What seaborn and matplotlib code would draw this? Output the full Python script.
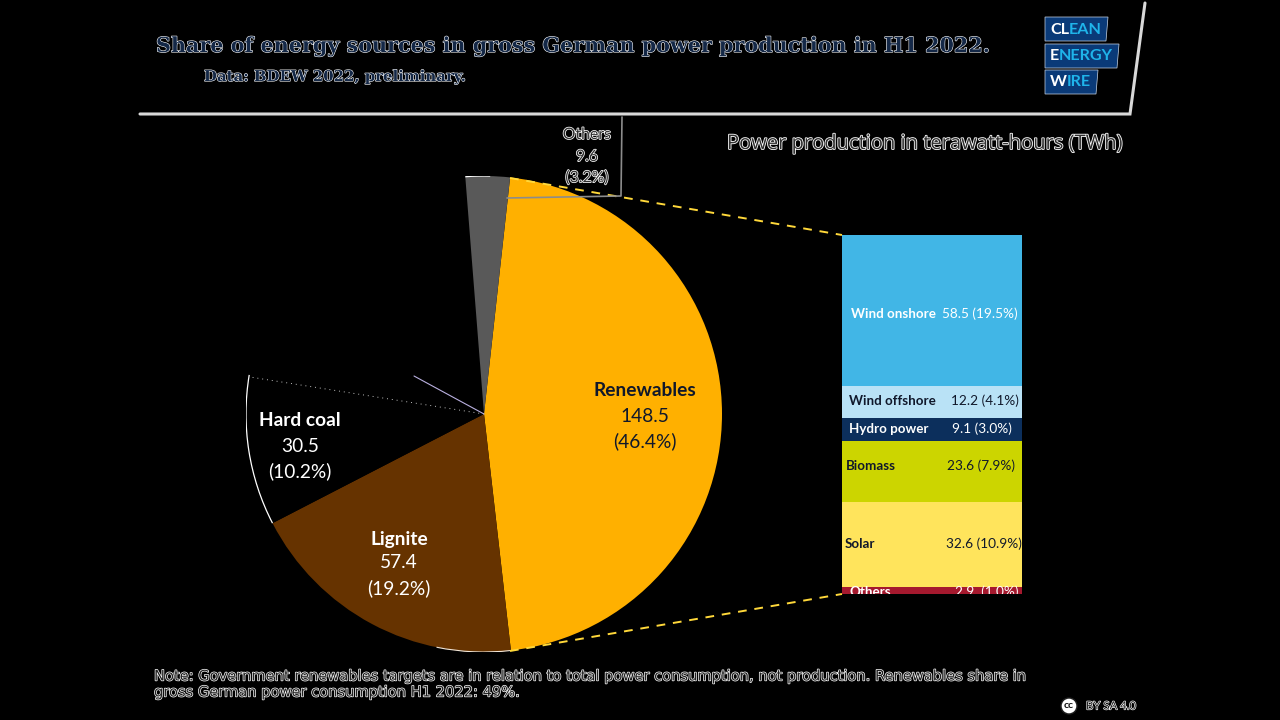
import matplotlib
matplotlib.use('Agg')
import matplotlib.pyplot as plt
import matplotlib.patheffects as pe
from matplotlib.patches import Arc, Polygon, Circle
import pandas as pd
import seaborn as sns

# main pie, shares as drawn in the picture (gas and nuclear are black, unlabelled)
pie_sources = ['Renewables', 'Lignite', 'Hard coal', 'Gas and nuclear', 'Others']
pie_shares = [46.4, 19.2, 10.2, 21.1, 3.0]
pie_twh = ['148.5', '57.4', '30.5', '', '9.6']
pie_pct = ['(46.4%)', '(19.2%)', '(10.2%)', '', '(3.2%)']
pie_colors = ['#FFB000', '#663300', '#000000', '#000000', '#595959']

# renewables breakdown, top to bottom
bar_sources = ['Wind onshore', 'Wind offshore', 'Hydro power', 'Biomass', 'Solar', 'Others']
bar_twh = [58.5, 12.2, 9.1, 23.6, 32.6, 2.9]
bar_pct = ['19.5%', '4.1%', '3.0%', '7.9%', '10.9%', '1.0%']
bar_colors = ['#41B6E6', '#B9E2F6', '#0C2F5C', '#CCD500', '#FFE45C', '#A5192E']
bar_text_colors = ['white', '#10182B', 'white', '#10182B', '#10182B', 'white']
bar_label_x = [851, 849, 849, 846, 845, 850]
bar_value_x = [942, 951, 952, 947, 946, 955]
bar_text_y = [314, 401, 429, 466, 544, 592]

title = 'Share of energy sources in gross German power production in H1 2022.'
subtitle = 'Data: BDEW 2022, preliminary.'
right_title = 'Power production in terawatt-hours (TWh)'
note_1 = ('Note: Government renewables targets are in relation to total power consumption, '
          'not production. Renewables share in')
note_2 = 'gross German power consumption H1 2022: 49%.'

W, H = 1280, 720
PIE_X, PIE_Y, PIE_R = 484, 414, 238
BAR_LEFT, BAR_RIGHT, BAR_TOP, BAR_BOTTOM = 842, 1022, 235, 594

sns.set_theme(style='white')
plt.rcParams['font.family'] = ['Lato', 'DejaVu Sans']

fig = plt.figure(figsize=(W / 100, H / 100), dpi=100, facecolor='black')


def px_axes(left, top, right, bottom):
    return fig.add_axes([left / W, 1 - bottom / H, (right - left) / W, (bottom - top) / H])


def outlined(width=0.9, color='white'):
    return [pe.withStroke(linewidth=width, foreground=color)]


# pie
ax_pie = px_axes(PIE_X - PIE_R, PIE_Y - PIE_R, PIE_X + PIE_R, PIE_Y + PIE_R)
wedges, _ = ax_pie.pie(pie_shares, colors=pie_colors, startangle=83.7, counterclock=False,
                       radius=1, wedgeprops={'linewidth': 0})
ax_pie.set_xlim(-1, 1)
ax_pie.set_ylim(-1, 1)
ax_pie.set_aspect('equal')
ax_pie.patch.set_alpha(0)

# thin white rim on parts of the outline
coal = wedges[2]
ax_pie.add_patch(Arc((0, 0), 2, 2, theta1=coal.theta1, theta2=coal.theta2, color='white', lw=0.9))
ax_pie.add_patch(Arc((0, 0), 2, 2, theta1=wedges[1].theta2 - 18, theta2=wedges[1].theta2,
                     color='#F2E6D8', lw=0.8))
ax_pie.add_patch(Arc((0, 0), 2, 2, theta1=wedges[4].theta2 - 6, theta2=wedges[4].theta2,
                     color='white', lw=0.9))

# stacked bar
ax_bar = px_axes(BAR_LEFT, BAR_TOP, BAR_RIGHT, BAR_BOTTOM)
df_bar = pd.DataFrame({'source': bar_sources, 'twh': bar_twh, 'color': bar_colors})
base = 0
for _, row in df_bar.iloc[::-1].iterrows():
    sns.barplot(data=pd.DataFrame({'group': ['Renewables'], 'twh': [row['twh']]}),
                x='group', y='twh', color=row['color'], saturation=1, width=1,
                bottom=base, linewidth=0, ax=ax_bar)
    base += row['twh']
ax_bar.set_xlim(-0.5, 0.5)
ax_bar.set_ylim(0, sum(bar_twh))
ax_bar.axis('off')

# everything else goes on an overlay in pixels
ax = fig.add_axes([0, 0, 1, 1])
ax.set_xlim(0, W)
ax.set_ylim(H, 0)
ax.axis('off')
ax.patch.set_alpha(0)

# header frame
ax.plot([140, 1130, 1145], [114, 114, 3], color='#D9D9D9', lw=2.2, solid_joinstyle='miter')

ax.text(156, 46, title, family='DejaVu Serif', weight='bold', fontsize=14.9, color='#142847',
        va='center', path_effects=outlined(0.8))
ax.text(204, 77, subtitle, family='DejaVu Serif', weight='bold', fontsize=10.75, color='#142847',
        va='center', path_effects=outlined(0.8))
ax.text(727, 144, right_title, family='Open Sans', fontsize=14.5, color='#303030',
        va='center', path_effects=outlined(1.2))

# logo
logo_rows = [('CL', 'EAN', 17, 41, 1108), ('E', 'NERGY', 44, 68, 1119), ('W', 'IRE', 70, 94, 1098)]
for first, rest, top, bottom, right in logo_rows:
    ax.add_patch(Polygon([(1045, top), (right, top), (right - 2, bottom), (1045, bottom)],
                         closed=True, fc='#0A3A78', ec='#C9D6E6', lw=0.5))
    t = ax.text(1050, (top + bottom) / 2 + 0.5, first, color='white', weight='bold',
                fontsize=11.6, va='center')
    ax.annotate(rest, xy=(1, 0.5), xycoords=t, va='center', color='#1FB4EA', weight='bold',
                fontsize=11.6)

# connector to the bar, and the Others leader
ax.plot([510, BAR_LEFT], [178, BAR_TOP], color='#FFD83A', lw=1.4, dashes=(4.5, 4))
ax.plot([510, BAR_LEFT], [651, BAR_BOTTOM], color='#FFD83A', lw=1.4, dashes=(4.5, 4))
ax.plot([507, 621, 622], [198, 196, 117], color='#8C8C8C', lw=1.2)

# dotted edge and short line inside the black part of the pie
ax.plot([PIE_X, 250], [PIE_Y, 377], color='#BFBFBF', lw=0.7, dashes=(1, 4))
ax.plot([PIE_X, 414], [PIE_Y, 376], color='#B9B0E0', lw=0.8)

# pie labels
pie_label_pos = {0: (645, [391, 416, 441]), 1: (399, [539, 563, 588]), 2: (300, [421, 446, 471])}
for i, (x, ys) in pie_label_pos.items():
    ax.text(x, ys[0], pie_sources[i], ha='center', va='center', weight='bold', fontsize=13.8,
            color='#10182B' if i == 0 else 'white')
    ax.text(x, ys[1], pie_twh[i], ha='center', va='center', fontsize=13.8,
            color='#10182B' if i == 0 else 'white')
    ax.text(x, ys[2], pie_pct[i], ha='center', va='center', fontsize=13.8,
            color='#10182B' if i == 0 else 'white')

for text, y in zip([pie_sources[4], pie_twh[4], pie_pct[4]], [135, 157, 178]):
    ax.text(587, y, text, ha='center', va='center', fontsize=11.4, color='#303030',
            path_effects=outlined(1.1))

# bar labels, the Others row is cut off at the foot of the bar as in the source
for i, source in enumerate(bar_sources):
    value = f'{bar_twh[i]} ({bar_pct[i]})'
    if source == 'Others':
        value = f'{bar_twh[i]}  ({bar_pct[i]})'
    for x, text, weight, size in [(bar_label_x[i], source, 'bold', 9.6), (bar_value_x[i], value, 'normal', 9.8)]:
        t = ax.text(x, bar_text_y[i], text, va='center', fontsize=size, weight=weight,
                    color=bar_text_colors[i])
        if source == 'Others':
            t.set_clip_box(ax_bar.bbox)
            t.set_clip_on(True)

# note and licence
ax.text(154, 676, note_1, family='DejaVu Sans', fontsize=10.55, color='#202020', va='center',
        path_effects=outlined(1.0))
ax.text(154, 692, note_2, family='DejaVu Sans', fontsize=10.55, color='#202020', va='center',
        path_effects=outlined(1.0))
ax.add_patch(Circle((1069, 706), 8, fc='white', ec='#202020', lw=1))
ax.text(1069, 706, 'cc', ha='center', va='center', fontsize=7.5, weight='bold', color='#101010')
ax.text(1086, 706, 'BY SA 4.0', va='center', fontsize=8.2, color='#202020', path_effects=outlined(0.9))

fig.savefig('out.png', dpi=100, facecolor='black')
